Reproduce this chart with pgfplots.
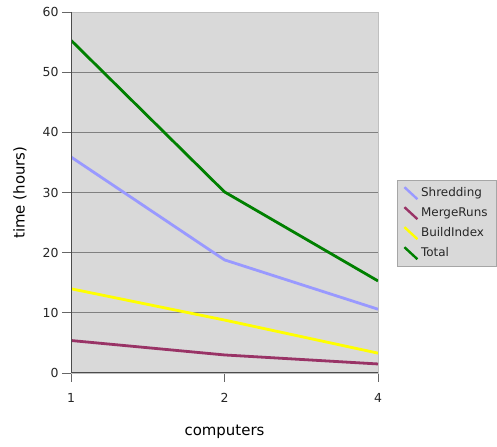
\documentclass[border=0pt]{standalone}
\usepackage{pgfplots}
\pgfplotsset{compat=1.18}
\usepackage{fontspec}
\setmainfont{DejaVu Sans}

\definecolor{plotbg}{HTML}{D9D9D9}
\definecolor{gridc}{HTML}{808080}
\definecolor{shred}{HTML}{9999FF}
\definecolor{merge}{HTML}{993366}
\definecolor{build}{HTML}{FFFF00}
\definecolor{total}{HTML}{008000}

\pgfplotsset{
  diag legend/.style={legend image code/.code={
    \draw[#1] (0bp,6bp) -- (13bp,-6bp);}},
}

\begin{document}
\begin{tikzpicture}[x=1bp,y=1bp]
\useasboundingbox (0,0) rectangle (497,447);
\begin{axis}[
  at={(71bp,74bp)}, anchor=south west,
  scale only axis,
  width=307bp, height=361bp,
  xmin=0, xmax=2, ymin=0, ymax=60,
  xtick={0,1,2}, xticklabels={1,2,4},
  ytick={0,10,...,60},
  ymajorgrids,
  grid style={gridc, line width=0.9bp},
  axis background/.style={fill=plotbg},
  axis line style={draw=gray!50, line width=0.8bp},
  tick align=outside,
  major tick length=9bp,
  tick style={gray!80!black, line width=0.8bp},
  xtick pos=bottom, ytick pos=left,
  ticklabel style={font=\fontsize{12.5}{13}\selectfont, text=black!85},
  xticklabel style={yshift=-8bp},
  /pgf/number format/assume math mode=true,
  xlabel={computers},
  ylabel={time (hours)},
  label style={font=\fontsize{15}{16}\selectfont},
  xlabel style={at={(axis description cs:0.5,-0.163)}, anchor=center},
  ylabel style={at={(axis description cs:-0.166,0.5)}, anchor=center},
  legend style={at={(1,0.415)}, anchor=west, xshift=19bp,
    fill=plotbg, draw=gray!70, font=\fontsize{12}{12}\selectfont,
    row sep=5.5bp, inner xsep=6bp, inner ysep=5.5bp, text=black!85,
    nodes={inner xsep=2.5bp}},
  legend cell align=left,
]
\addplot[shred, line width=2.8bp, diag legend={shred, line width=2.4bp}] coordinates {(0,35.9) (1,18.8) (2,10.6)};
\addplot[merge, line width=2.8bp, diag legend={merge, line width=2.4bp}] coordinates {(0,5.4) (1,3.0) (2,1.5)};
\addplot[build, line width=2.8bp, diag legend={build, line width=2.4bp}] coordinates {(0,14.0) (1,8.8) (2,3.3)};
\addplot[total, line width=2.8bp, diag legend={total, line width=2.4bp}] coordinates {(0,55.3) (1,30.1) (2,15.3)};
\legend{Shredding, MergeRuns, BuildIndex, Total}
\draw[black!70, line width=1bp] (rel axis cs:0,1) -- (rel axis cs:0,0) -- (rel axis cs:1,0);
\end{axis}
\end{tikzpicture}
\end{document}
